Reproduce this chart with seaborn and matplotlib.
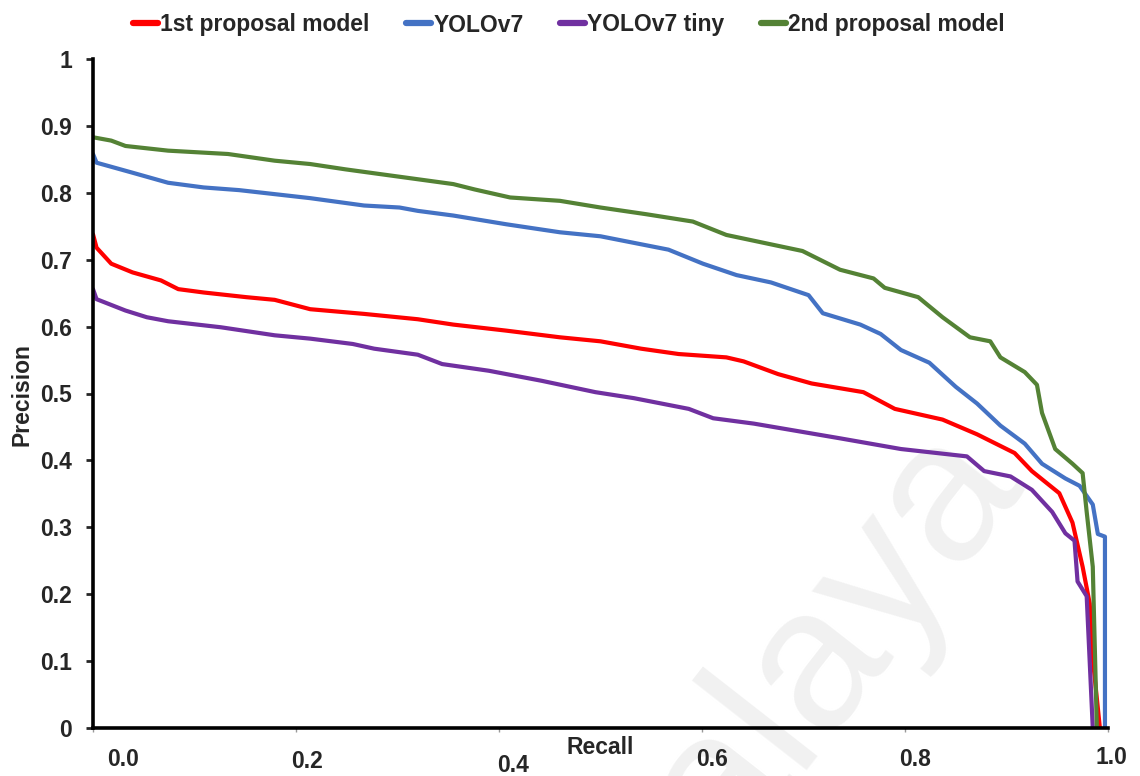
import numpy as np
import pandas as pd
import matplotlib
matplotlib.use("Agg")
import matplotlib.pyplot as plt
import seaborn as sns

# ---- data ----
models = ["1st proposal model", "YOLOv7", "YOLOv7 tiny", "2nd proposal model"]
colors = ["#ff0000", "#4472c4", "#7030a0", "#548235"]

red_recall = [0, 0.0035, 0.018, 0.039, 0.067, 0.084, 0.109, 0.151, 0.179, 0.214, 0.267,
              0.320, 0.355, 0.407, 0.460, 0.500, 0.540, 0.577, 0.624, 0.641, 0.675, 0.708,
              0.759, 0.790, 0.837, 0.871, 0.908, 0.925, 0.952, 0.965, 0.975, 0.982, 0.985, 0.992]
red_prec = [0.738, 0.718, 0.694, 0.681, 0.669, 0.656, 0.651, 0.644, 0.640, 0.626, 0.619,
            0.611, 0.603, 0.594, 0.584, 0.578, 0.567, 0.559, 0.554, 0.548, 0.529, 0.515,
            0.502, 0.477, 0.461, 0.439, 0.411, 0.384, 0.351, 0.307, 0.241, 0.186, 0.104, 0.0]

blue_recall = [0, 0.0035, 0.039, 0.074, 0.109, 0.144, 0.179, 0.214, 0.267, 0.302, 0.320,
               0.355, 0.407, 0.460, 0.500, 0.567, 0.601, 0.634, 0.668, 0.705, 0.719, 0.756,
               0.776, 0.796, 0.824, 0.850, 0.871, 0.894, 0.918, 0.935, 0.958, 0.972, 0.985,
               0.990, 0.997, 0.997]
blue_prec = [0.858, 0.845, 0.830, 0.815, 0.808, 0.804, 0.798, 0.792, 0.781, 0.778, 0.773,
             0.766, 0.753, 0.741, 0.735, 0.715, 0.694, 0.677, 0.666, 0.647, 0.620, 0.603,
             0.589, 0.565, 0.546, 0.510, 0.485, 0.452, 0.425, 0.395, 0.373, 0.362, 0.334,
             0.290, 0.286, 0.0]

purple_recall = [0, 0.0035, 0.032, 0.053, 0.074, 0.126, 0.179, 0.214, 0.256, 0.277, 0.320,
                 0.344, 0.390, 0.442, 0.495, 0.533, 0.587, 0.611, 0.651, 0.736, 0.796, 0.861,
                 0.878, 0.904, 0.925, 0.945, 0.958, 0.967, 0.970, 0.979, 0.985]
purple_prec = [0.656, 0.641, 0.624, 0.614, 0.608, 0.599, 0.587, 0.582, 0.574, 0.567, 0.558,
               0.544, 0.534, 0.519, 0.502, 0.493, 0.477, 0.463, 0.455, 0.433, 0.417, 0.406,
               0.384, 0.376, 0.356, 0.323, 0.291, 0.280, 0.219, 0.197, 0.0]

green_recall = [0, 0.018, 0.032, 0.074, 0.133, 0.179, 0.214, 0.249, 0.302, 0.355, 0.376,
                0.411, 0.460, 0.500, 0.545, 0.591, 0.624, 0.699, 0.736, 0.769, 0.780, 0.813,
                0.837, 0.864, 0.884, 0.894, 0.918, 0.930, 0.935, 0.948, 0.965, 0.975, 0.979,
                0.985, 0.989]
green_prec = [0.883, 0.878, 0.870, 0.863, 0.858, 0.848, 0.843, 0.835, 0.824, 0.813, 0.805,
              0.793, 0.788, 0.778, 0.768, 0.757, 0.737, 0.713, 0.685, 0.672, 0.658, 0.644,
              0.614, 0.584, 0.578, 0.554, 0.532, 0.513, 0.471, 0.417, 0.395, 0.381, 0.323,
              0.241, 0.0]

y_ticks = [0, 0.1, 0.2, 0.3, 0.4, 0.5, 0.6, 0.7, 0.8, 0.9, 1]
y_ticklabels = ["0", "0.1", "0.2", "0.3", "0.4", "0.5", "0.6", "0.7", "0.8", "0.9", "1"]
x_ticks = [0, 0.2, 0.4, 0.6, 0.8, 1.0]
x_ticklabels = ["0.0", "0.2", "0.4", "0.6", "0.8", "1.0"]

# build long-form table
frames = []
for name, rec, prec in zip(models,
                           [red_recall, blue_recall, purple_recall, green_recall],
                           [red_prec, blue_prec, purple_prec, green_prec]):
    part = pd.DataFrame({"Recall": rec, "Precision": prec})
    part["model"] = name
    frames.append(part)
df = pd.concat(frames, ignore_index=True)

sns.set_style("white")
plt.rcParams["font.family"] = ["Liberation Sans", "DejaVu Sans"]
plt.rcParams["font.weight"] = "bold"
FS = 16.5

fig = plt.figure(figsize=(11.4, 7.76), dpi=100)
ax = fig.add_axes([93 / 1140, 1 - 728 / 776, (1108 - 93) / 1140, (728 - 59) / 776])

# faint watermark, kept under the curves
ax.text(780 / 1140, 1 - 700 / 776, "Malaya", transform=fig.transFigure,
        fontsize=145, color="#f1f1f1", rotation=52, ha="center", va="center",
        rotation_mode="anchor", fontweight="normal", zorder=0, clip_on=False)

sns.lineplot(data=df, x="Recall", y="Precision", hue="model", hue_order=models,
             palette=dict(zip(models, colors)), estimator=None, sort=False,
             linewidth=3, ax=ax, zorder=3)

handles, labels = ax.get_legend_handles_labels()
ax.get_legend().remove()
for h in handles:
    h.set_linewidth(4.5)
fig.legend(handles, labels, loc="center", bbox_to_anchor=(569 / 1140, 1 - 25 / 776),
           ncol=4, frameon=False, handlelength=1.1, handletextpad=0.08,
           columnspacing=1.6, prop={"weight": "bold", "size": FS})

ax.set_xlim(0, 1.0)
ax.set_ylim(0, 1.0)
ax.set_yticks(y_ticks)
ax.set_yticklabels(y_ticklabels, fontsize=FS, fontweight="bold")
ax.set_xticks(x_ticks)
ax.set_xticklabels([])
ax.tick_params(axis="y", length=5, width=2, direction="out", pad=10, left=True)
ax.tick_params(axis="x", length=3, width=1, direction="out", color="#999999", bottom=True)

for side in ["top", "right"]:
    ax.spines[side].set_visible(False)
for side in ["left", "bottom"]:
    ax.spines[side].set_linewidth(2.6)
    ax.spines[side].set_color("black")
    ax.spines[side].set_zorder(4)

# x tick labels sit a little off the ticks, as in the original
label_x = [0.030, 0.211, 0.414, 0.610, 0.810, 1.003]
label_y = [759, 762, 765, 760, 759, 757]
for lx, ly, txt in zip(label_x, label_y, x_ticklabels):
    fig.text((93 + lx * 1015) / 1140, 1 - ly / 776, txt, fontsize=FS,
             fontweight="bold", ha="center", va="center")

ax.set_xlabel("")
ax.set_ylabel("")
fig.text(600 / 1140, 1 - 748 / 776, "Recall", fontsize=FS, fontweight="bold",
         ha="center", va="center")
fig.text(22 / 1140, 1 - 395 / 776, "Precision", fontsize=FS, fontweight="bold",
         ha="center", va="center", rotation=90)

fig.savefig("out.png", dpi=100, facecolor="white")
